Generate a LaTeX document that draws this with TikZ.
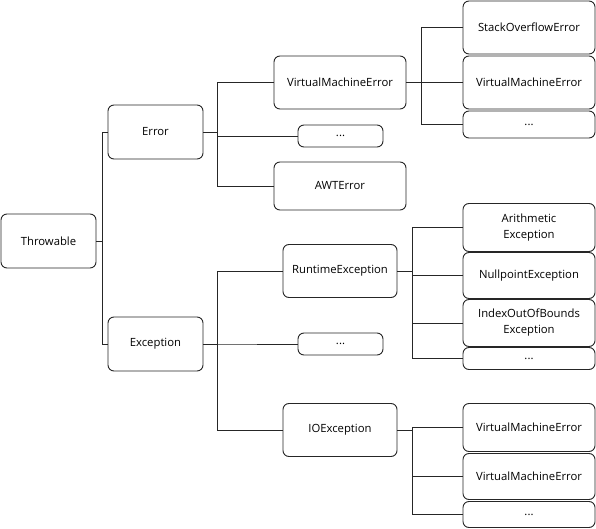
\documentclass[tikz,border=0pt]{standalone}
\usepackage{fontspec}
\setmainfont{Open Sans}
\usepackage{tikz}
\usetikzlibrary{positioning}

\tikzset{
  box/.style={draw=black!85, line width=0.9pt, rounded corners=6pt, fill=white, align=center,
    inner sep=1pt, outer sep=0pt, font=\fontsize{11.3}{16}\selectfont},
  link/.style={draw=black!85, line width=0.9pt}
}

\begin{document}
\begin{tikzpicture}[x=1pt, y=-1pt]
    \useasboundingbox (0,0) rectangle (596,529);

    % root and first level
    \node[box, minimum width=95pt, minimum height=54pt] (throwable) at (48.5,241) {Throwable};
    \node[box, minimum width=95pt, minimum height=54pt, above right=55pt and 12pt of throwable] (error) {Error};
    \node[box, minimum width=95pt, minimum height=54pt, below right=49pt and 12pt of throwable] (exception) {Exception};

    % second level
    \node[box, minimum width=132pt, minimum height=53pt, right=71pt of error, yshift=49.5pt] (vmerror) {VirtualMachineError};
    \node[box, minimum width=85pt, minimum height=22pt, right=95pt of error, yshift=-4pt] (errdots) {...};
    \node[box, minimum width=132pt, minimum height=48pt, right=71pt of error, yshift=-54pt] (awterror) {AWTError};
    \node[box, minimum width=114pt, minimum height=53pt, right=80pt of exception, yshift=73pt] (runtime) {RuntimeException};
    \node[box, minimum width=85pt, minimum height=22pt, right=95pt of exception] (excdots) {...};
    \node[box, minimum width=114pt, minimum height=53pt, right=80pt of exception, yshift=-86pt] (ioexc) {IOException};

    % third level
    \node[box, minimum width=132pt, minimum height=53pt, right=57pt of vmerror, yshift=55pt] (stackof) {StackOverflowError};
    \node[box, minimum width=132pt, minimum height=53pt, right=57pt of vmerror] (vmsub) {VirtualMachineError};
    \node[box, minimum width=132pt, minimum height=27pt, below=2pt of vmsub] (vmdots) {...};

    \node[box, minimum width=132pt, minimum height=48pt, right=66pt of runtime, yshift=43.5pt] (arith) {Arithmetic\\Exception};
    \node[box, minimum width=132pt, minimum height=46pt, below=1pt of arith] (nullp) {NullpointException};
    \node[box, minimum width=132pt, minimum height=47pt, below=1pt of nullp] (index) {IndexOutOfBounds\\Exception};
    \node[box, minimum width=132pt, minimum height=22pt, below=1pt of index] (rtdots) {...};

    \node[box, minimum width=132pt, minimum height=48pt, right=66pt of ioexc, yshift=2.5pt] (iosuba) {VirtualMachineError};
    \node[box, minimum width=132pt, minimum height=46pt, below=2pt of iosuba] (iosubb) {VirtualMachineError};
    \node[box, minimum width=132pt, minimum height=26pt, below=2pt of iosubb] (iodots) {...};

    % connectors
    \foreach \child in {error, exception}
        \draw[link] (throwable.east) -- ++(6,0) |- (\child.west);
    \foreach \child in {vmerror, errdots, awterror}
        \draw[link] (error.east) -- ++(14,0) |- (\child.west);
    \foreach \child in {runtime, excdots, ioexc}
        \draw[link] (exception.east) -- ++(14,0) |- (\child.west);
    \foreach \child in {stackof, vmsub, vmdots}
        \draw[link] (vmerror.east) -- ++(15,0) |- (\child.west);
    \foreach \child in {arith, nullp, index, rtdots}
        \draw[link] (runtime.east) -- ++(15,0) |- (\child.west);
    \foreach \child in {iosuba, iosubb, iodots}
        \draw[link] (ioexc.east) -- ++(15,0) |- (\child.west);
\end{tikzpicture}
\end{document}
